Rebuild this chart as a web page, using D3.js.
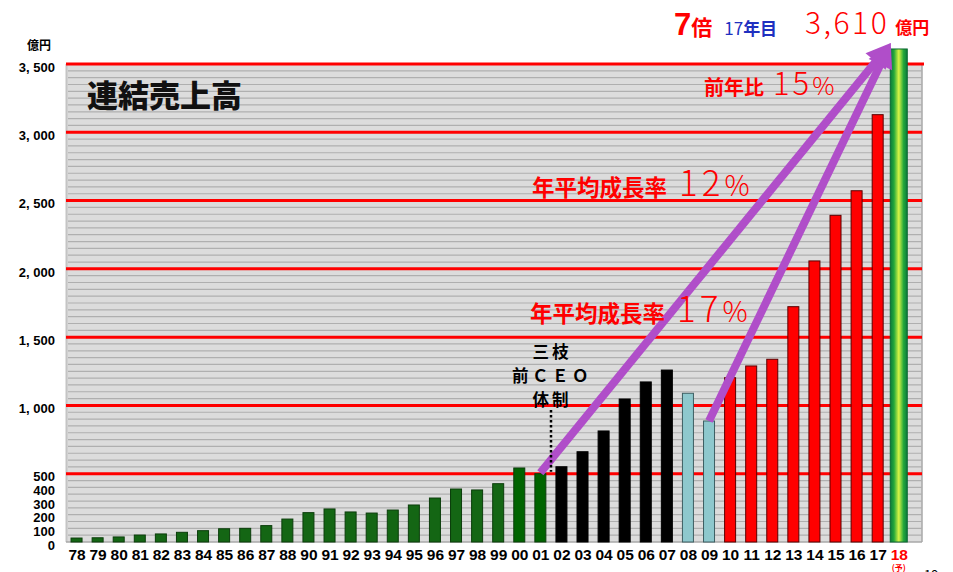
<!DOCTYPE html>
<html><head><meta charset="utf-8">
<script src="https://cdn.jsdelivr.net/npm/d3@7"></script>
<style>
html,body{margin:0;padding:0;background:#fff;overflow:hidden}
svg{display:block}
text{font-family:"Noto Sans CJK JP","Noto Sans",sans-serif}
.nar{font-family:"Liberation Sans Narrow","Arial Narrow","Liberation Sans",sans-serif;font-weight:bold}
.ylab{font-family:"Liberation Sans",Arial,sans-serif;font-weight:bold}
</style></head>
<body>
<svg id="c" width="953" height="572"></svg>
<script>
const years = ["78","79","80","81","82","83","84","85","86","87","88","90","91","92","93","94","95","96","97","98","99","00","01","02","03","04","05","06","07","08","09","10","11","12","13","14","15","16","17","18"];
const sales = [29,31,37,51,59,71,83,97,100,120,168,215,242,220,212,234,271,322,388,381,427,542,500,551,661,813,1047,1172,1259,1089,886,1203,1289,1338,1723,2058,2392,2572,3129,3610];
const yTickValues = [0,100,200,300,400,500,1000,1500,2000,2500,3000,3500];
const yTickLabels = ["0","100","200","300","400","500","1, 000","1, 500","2, 000","2, 500","3, 000","3, 500"];

const svg = d3.select("#c");
const L = 66, R = 922, B = 542, T = 64;
const x = d3.scalePoint().domain(years).range([L, 909.3]).padding(0.5);
const y = d3.scaleLinear().domain([0, 3500]).range([B, T]);

function barColor(yr){
  const i = years.indexOf(yr);
  if (i <= years.indexOf("99")) return "#146614";
  if (i <= years.indexOf("01")) return "#006400";
  if (i <= years.indexOf("07")) return "#000000";
  if (i <= years.indexOf("09")) return "#8ec8cd";
  if (i <= years.indexOf("17")) return "#ff0000";
  return "url(#g18)";
}
function barStroke(yr){
  const i = years.indexOf(yr);
  if (i <= years.indexOf("01")) return "#0b3d0b";
  if (i <= years.indexOf("07")) return "#000";
  if (i <= years.indexOf("09")) return "#3d5e62";
  if (i <= years.indexOf("17")) return "#5a0000";
  return "#0a6a30";
}

const defs = svg.append("defs");
const g = defs.append("linearGradient").attr("id","g18").attr("x1","0").attr("x2","1").attr("y1","0").attr("y2","0");
[["0%","#0b7a3c"],["22%","#24a83a"],["50%","#d8f545"],["78%","#24a83a"],["100%","#0b7a3c"]].forEach(s=>g.append("stop").attr("offset",s[0]).attr("stop-color",s[1]));

// plot background
svg.append("rect").attr("x",L).attr("y",T).attr("width",R-L).attr("height",B-T).attr("fill","#dcdcdc");
svg.append("line").attr("x1",L+0.5).attr("x2",L+0.5).attr("y1",T).attr("y2",B).attr("stroke","#c4c4c4").attr("stroke-width",2);
svg.append("line").attr("x1",R).attr("x2",R).attr("y1",T).attr("y2",B).attr("stroke","#a8a8a8").attr("stroke-width",1.5);

// grid lines
const minor = d3.range(50, 3500, 50).filter(v => v % 500 !== 0);
svg.append("g").selectAll("line").data(minor).join("line")
  .attr("x1",L+2).attr("x2",R).attr("y1",d=>y(d)).attr("y2",d=>y(d))
  .attr("stroke","#afafaf").attr("stroke-width",1.2);
svg.append("line").attr("x1",L).attr("x2",R).attr("y1",B).attr("y2",B).attr("stroke","#a8a8a8").attr("stroke-width",1.5);
svg.append("g").selectAll("line").data(d3.range(500, 3501, 500)).join("line")
  .attr("x1",L).attr("x2",d=>d===3500?R+2:R).attr("y1",d=>y(d)).attr("y2",d=>y(d))
  .attr("stroke","#ff0000").attr("stroke-width",3);

// bars
svg.append("g").selectAll("rect").data(years).join("rect")
  .attr("x",(d)=>x(d) - (d==="18"?8.5:5.5))
  .attr("width",d=>d==="18"?17:11)
  .attr("y",(d,i)=>y(sales[i]))
  .attr("height",(d,i)=>B - y(sales[i]))
  .attr("fill",barColor).attr("stroke",barStroke).attr("stroke-width",1);

// y axis
const ya = svg.append("g").attr("transform",`translate(${L-8},2.5)`)
  .call(d3.axisLeft(y).tickValues(yTickValues).tickSize(0).tickFormat((d,i)=>yTickLabels[i]));
ya.select(".domain").remove();
ya.selectAll("text").attr("class","ylab").attr("font-size",13).attr("fill","#000").attr("dy","0.36em");
svg.append("text").attr("x",27).attr("y",50).attr("font-size",12).attr("font-weight","bold").text("億円");

// x axis
const xa = svg.append("g").attr("transform",`translate(0,${B+4})`)
  .call(d3.axisBottom(x).tickSize(0));
xa.select(".domain").remove();
xa.selectAll("text").attr("class","nar").attr("font-size",15.5).attr("dy","0.72em")
  .attr("fill",d=>d==="18"?"#ff0000":"#000");
svg.append("text").attr("x",x("18")).attr("y",571).attr("text-anchor","middle").attr("font-size",8).attr("font-weight","bold").attr("fill","#ff0000").text("(予)");
svg.append("text").attr("x",924).attr("y",580).attr("font-size",13).attr("fill","#000").text("19");

// title
svg.append("text").attr("x",87).attr("y",107).attr("font-size",31).attr("font-weight","900").attr("fill","#111").text("連結売上高");

// arrows
const purple = "#b04ec9";
const tip = [x("18") - 8, y(3610) - 6];
const starts = [[x("01"), y(sales[years.indexOf("01")]) - 1], [x("09"), y(sales[years.indexOf("09")])]];
const ag = svg.append("g");
starts.forEach(s=>{
  const dx = tip[0]-s[0], dy = tip[1]-s[1], len = Math.hypot(dx,dy);
  const ux = dx/len, uy = dy/len, nx = -uy, ny = ux;
  const hl = 24, hw = 13;
  ag.append("line").attr("x1",s[0]).attr("y1",s[1]).attr("x2",tip[0]-ux*(hl-4)).attr("y2",tip[1]-uy*(hl-4))
    .attr("stroke",purple).attr("stroke-width",8);
  const bx = tip[0]-ux*hl, by = tip[1]-uy*hl;
  ag.append("polygon").attr("points",`${tip[0]},${tip[1]} ${bx+nx*hw},${by+ny*hw} ${bx-nx*hw},${by-ny*hw}`).attr("fill",purple);
});

// dotted line
svg.append("line").attr("x1",551).attr("x2",551).attr("y1",410).attr("y2",y(500)-2)
  .attr("stroke","#000").attr("stroke-width",2.5).attr("stroke-dasharray","2.5,2.5");

// CEO label
const ceo = svg.append("g").attr("font-weight","bold").attr("font-size",16.5).attr("fill","#000").attr("text-anchor","middle");
ceo.append("text").attr("x",552).attr("y",358).attr("letter-spacing",3).text("三枝");
ceo.append("text").attr("x",552).attr("y",382).attr("letter-spacing",3.5).text("前ＣＥＯ");
ceo.append("text").attr("x",552).attr("y",406).attr("letter-spacing",3).text("体制");

// red annotations
function rate(xp, yp, label, fs, num, nfs, gap, ls){
  const t = svg.append("text").attr("x",xp).attr("y",yp).attr("fill","#ff0000");
  t.append("tspan").attr("font-size",fs).attr("font-weight","bold").text(label);
  t.append("tspan").attr("dx",gap).attr("font-size",nfs).attr("font-weight","300").attr("letter-spacing",ls).text(num);
  t.append("tspan").attr("font-size",nfs*0.8).attr("font-weight","300").text("%");
}
rate(704, 95, "前年比", 20, "15", 31, 9, 3);
rate(532, 196, "年平均成長率", 22.5, "12", 35, 12, 4);
rate(530, 322, "年平均成長率", 22.5, "17", 35, 12, 4);

// top-right header
const h = svg.append("text").attr("x",674).attr("y",35);
h.append("tspan").attr("font-size",31).attr("font-weight","900").attr("fill","#ff0000").attr("font-family","Liberation Sans, Arial, sans-serif").text("7");
h.append("tspan").attr("font-size",21).attr("font-weight","bold").attr("fill","#ff0000").text("倍");
h.append("tspan").attr("dx",12).attr("font-size",17).attr("fill","#2030c0").text("17");
h.append("tspan").attr("font-size",17).attr("font-weight","bold").attr("fill","#2030c0").text("年目");
const v = svg.append("text").attr("x",805).attr("y",34).attr("fill","#ff0000");
v.append("tspan").attr("font-size",30).attr("font-weight","300").attr("letter-spacing",2.5).text("3,610");
v.append("tspan").attr("dx",6).attr("font-size",17).attr("font-weight","bold").text("億円");
</script>
</body></html>
